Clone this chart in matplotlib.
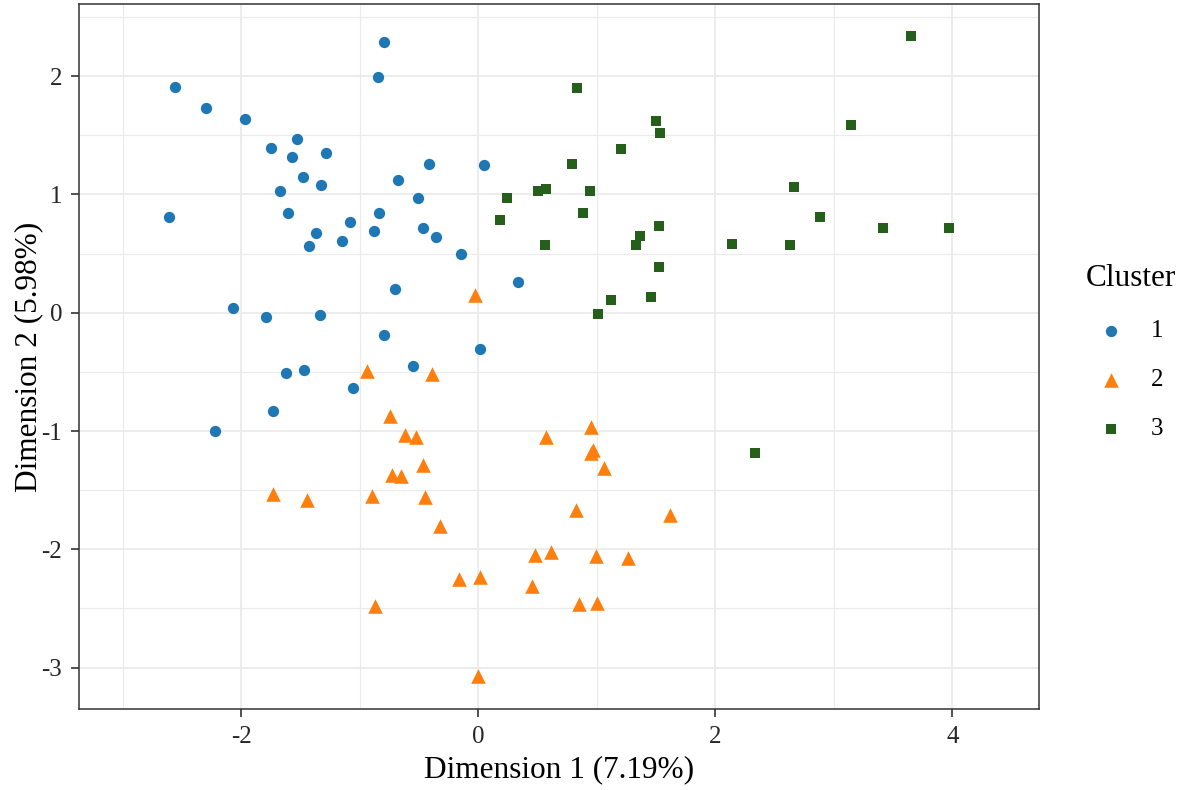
import numpy as np
import matplotlib
matplotlib.use("Agg")
import matplotlib.pyplot as plt
from matplotlib.ticker import MultipleLocator

# klaster 1 (niebieskie kółka)
c1_x = [-0.80, -0.85, -2.56, -2.30, -1.97, -1.53, -1.75, -1.57, -1.29, -0.42,
        0.05, -1.48, -1.33, -0.68, -1.67, -0.51, -2.61, -1.61, -1.08, -0.84,
        -1.37, -0.88, -0.47, -0.36, -1.43, -1.15, -0.15, 0.33, -0.70, -2.07,
        -1.79, -1.34, -0.80, 0.01, -1.62, -1.47, -0.55, -1.06, -1.73, -2.22]
c1_y = [2.29, 1.99, 1.91, 1.73, 1.64, 1.47, 1.39, 1.32, 1.35, 1.26,
        1.25, 1.15, 1.08, 1.12, 1.03, 0.97, 0.81, 0.84, 0.77, 0.84,
        0.67, 0.69, 0.72, 0.64, 0.56, 0.61, 0.50, 0.26, 0.20, 0.04,
        -0.04, -0.02, -0.19, -0.31, -0.51, -0.48, -0.45, -0.64, -0.83, -1.00]

# klaster 2 (pomarańczowe trójkąty)
c2_x = [-0.03, -0.94, -0.39, -0.75, -0.62, -0.53, 0.57, -0.47, -0.73, -0.65,
        -1.73, -1.45, -0.90, -0.45, -0.32, 0.48, 0.61, -0.16, 0.01, 0.45,
        -0.87, 0.00, 0.95, 0.97, 0.95, 1.06, 0.82, 1.62, 0.99, 1.26,
        0.85, 1.00]
c2_y = [0.15, -0.49, -0.52, -0.87, -1.03, -1.05, -1.05, -1.29, -1.37, -1.38,
        -1.53, -1.58, -1.55, -1.56, -1.80, -2.05, -2.02, -2.25, -2.23, -2.31,
        -2.48, -3.07, -0.97, -1.16, -1.19, -1.31, -1.67, -1.71, -2.06, -2.07,
        -2.46, -2.45]

# klaster 3 (zielone kwadraty)
c3_x = [3.65, 0.83, 1.50, 1.53, 3.14, 1.20, 0.79, 0.50, 0.57, 0.94,
        0.24, 2.66, 0.18, 0.88, 2.88, 1.52, 3.41, 3.97, 1.36, 1.33,
        2.14, 2.63, 0.56, 1.52, 1.12, 1.46, 1.01, 2.33]
c3_y = [2.34, 1.90, 1.62, 1.52, 1.59, 1.38, 1.26, 1.03, 1.05, 1.03,
        0.97, 1.06, 0.78, 0.84, 0.81, 0.73, 0.72, 0.72, 0.65, 0.57,
        0.58, 0.57, 0.57, 0.39, 0.11, 0.13, -0.01, -1.19]

labels = ["1", "2", "3"]
kolory = ["#1F78B4", "#FF7F0E", "#265E1B"]

plt.rcParams["font.family"] = ["Liberation Serif", "DejaVu Serif"]
plt.rcParams["axes.unicode_minus"] = False  # zwykły łącznik jak w oryginale

fig = plt.figure(figsize=(11.81, 7.90), dpi=100)
ax = fig.add_axes([79 / 1181, 1 - 709 / 790, 960 / 1181, 705 / 790])

ax.scatter(c1_x, c1_y, s=66, marker="o", color=kolory[0], linewidths=0, label=labels[0], zorder=3)
ax.scatter(c2_x, c2_y, s=110, marker="^", color=kolory[1], linewidths=0, label=labels[1], zorder=3)
ax.scatter(c3_x, c3_y, s=60, marker="s", color=kolory[2], linewidths=0, label=labels[2], zorder=3)

ax.set_xlim(-3.37, 4.73)
ax.set_ylim(-3.35, 2.61)
ax.xaxis.set_major_locator(MultipleLocator(2))
ax.xaxis.set_minor_locator(MultipleLocator(1))
ax.yaxis.set_major_locator(MultipleLocator(1))
ax.yaxis.set_minor_locator(MultipleLocator(0.5))

# siatka jak w theme_bw
ax.grid(which="major", color="#EBEBEB", linewidth=1.3, zorder=0)
ax.grid(which="minor", color="#EBEBEB", linewidth=0.8, zorder=0)
ax.set_axisbelow(True)
for s in ax.spines.values():
    s.set_color("#333333")
    s.set_linewidth(1.1)
ax.tick_params(which="major", length=6, width=1.2, color="#333333",
               labelsize=18, labelcolor="#262626")
ax.tick_params(axis="x", which="major", pad=6.5)
ax.tick_params(axis="y", which="major", pad=6)
ax.tick_params(which="minor", length=0)

ax.set_xlabel("Dimension 1 (7.19%)", fontsize=22.5, labelpad=5)
ax.set_ylabel("Dimension 2 (5.98%)", fontsize=22.5)
ax.yaxis.set_label_coords(-0.037, 0.5)

leg = fig.legend(loc="upper left", bbox_to_anchor=(1073 / 1181, 1 - 252 / 790),
                 title="Cluster", title_fontsize=22.5, fontsize=18,
                 frameon=False, borderpad=0, handlelength=2.0,
                 handletextpad=0.6, labelspacing=1.06, alignment="left")

fig.savefig("out.png", dpi=100)
